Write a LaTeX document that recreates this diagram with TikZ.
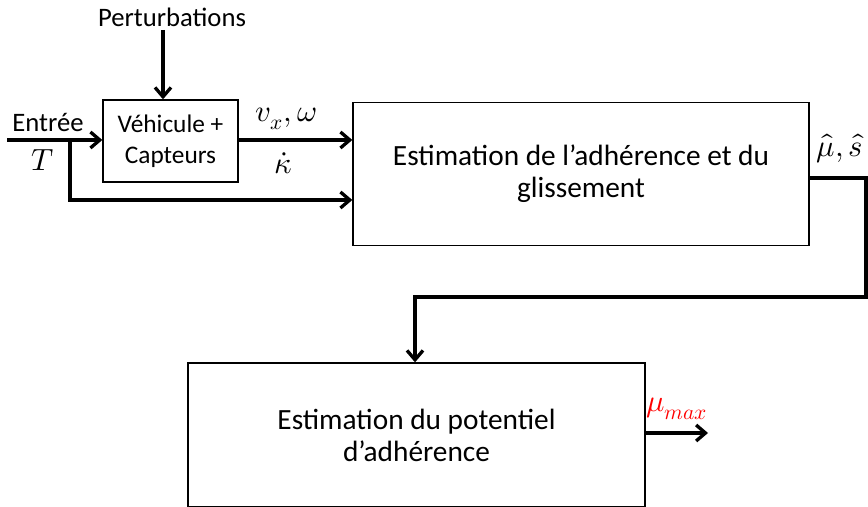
\documentclass[tikz,border=0pt]{standalone}
\usepackage{fontspec}
\usepackage{unicode-math}
\setmainfont{Carlito}
\setmathfont{Latin Modern Math}
\usepackage{tikz}
\usetikzlibrary{arrows.meta,positioning,calc}
\tikzset{
  blk/.style={draw,line width=1pt,align=center,font=\fontsize{22}{24}\selectfont},
  sblk/.style={blk,font=\fontsize{19}{23}\selectfont},
  lbl/.style={font=\fontsize{20}{22}\selectfont},
  mlbl/.style={font=\fontsize{23}{24}\selectfont},
  arr/.style={-{Straight Barb[length=7pt,width=12pt]},line width=2.5pt},
}

\begin{document}
\begin{tikzpicture}[x=0.75pt,y=0.75pt]
  \useasboundingbox (0,0) rectangle (868,507);
  %% -- Blocks ---------------------------------------------------------
  \node[sblk,minimum width=101.25pt,minimum height=61.5pt] (veh) at (170.5,366) {V\'ehicule +\\Capteurs};
  \node[blk,minimum width=342pt,minimum height=107.25pt] (est) at (581,333) {Estimation de l’adh\'erence et du\\glissement};
  \node[blk,minimum width=342.75pt,minimum height=108pt] (pot) at (416.5,72) {Estimation du potentiel\\d’adh\'erence};

  %% -- Labels ---------------------------------------------------------
  \node[lbl] (pert) at (172,490) {Perturbations};
  \node[lbl] (entree) at (48,385) {Entr\'ee};
  \node[mlbl] (tin) at (43,347) {$T$};
  \node[mlbl] (vxw) at (286,388) {$v_x,\omega$};
  \node[mlbl] (kap) at (283,344) {$\dot{\kappa}$};
  \node[mlbl] (muss) at (840,358) {$\hat{\mu},\hat{s}$};
  \node[mlbl,text=red] (mumax) at (677,98) {$\mu_{max}$};

  %% -- Connectors -----------------------------------------------------
  \coordinate (in) at (7,367);
  \coordinate (br) at (70,367);
  \coordinate (ptop) at (163,477);
  \coordinate (eout) at (est.east |- 0,329);
  \coordinate (ecor) at (866,210);
  \coordinate (out) at (708,74);

  \draw[arr] (ptop) -- (ptop |- veh.north);
  \draw[arr] (in) -- (in -| veh.west);
  \draw[arr] (br) |- (est.west |- 0,307);
  \draw[arr] (veh.east |- in) -- (est.west |- in);
  \draw[arr] (eout) -| (ecor) -| ($(pot.north)+(-1.5,0)$);
  \draw[arr] (pot.east |- out) -- (out);
\end{tikzpicture}
\end{document}
